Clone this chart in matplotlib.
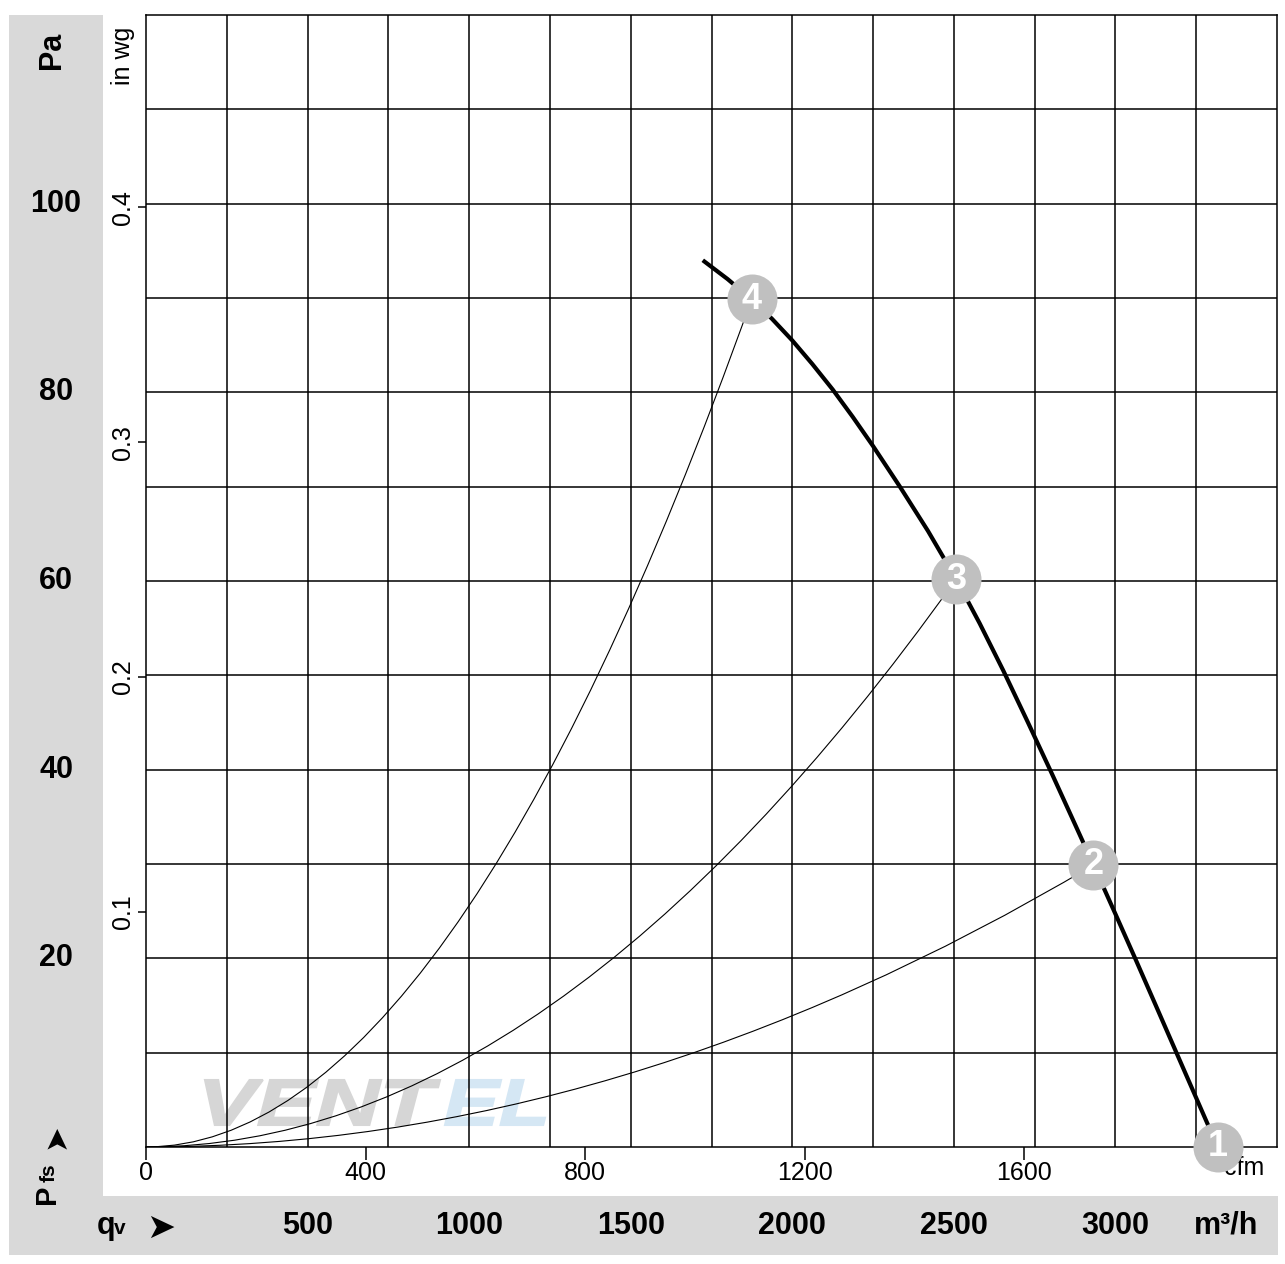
import numpy as np
import matplotlib
matplotlib.use("Agg")
import matplotlib.pyplot as plt
from matplotlib.patches import Rectangle, PathPatch
from matplotlib.path import Path
from matplotlib.textpath import TextPath
from matplotlib.font_manager import FontProperties
import matplotlib.transforms as mtransforms

plt.rcParams['font.family'] = ['Liberation Sans', 'DejaVu Sans']

# ---------------- data ----------------
fan_q = [1723, 1800, 1874, 1937, 2000, 2062, 2125, 2187, 2250, 2333, 2420, 2507, 2580, 2653,
         2728, 2803, 2867, 2932, 3000, 3061, 3125, 3190, 3250, 3287, 3316]
fan_p = [94.0, 92.0, 89.85, 87.8, 85.5, 83.0, 80.3, 77.4, 74.3, 70.0, 65.3, 60.2, 55.5, 50.5,
         45.1, 39.6, 34.8, 29.9, 24.7, 20.0, 15.0, 9.9, 5.2, 2.3, 0.0]

op_labels = ['1', '2', '3', '4']
op_q = [3316, 2932, 2507, 1874]
op_p = [0.0, 29.9, 60.2, 89.85]

pa_ticks = [20, 40, 60, 80, 100]
qv_ticks = [500, 1000, 1500, 2000, 2500, 3000]
inwg_ticks = [0.1, 0.2, 0.3, 0.4]
cfm_ticks = [0, 400, 800, 1200, 1600]

PA_PER_INWG = 249.089
M3H_PER_CFM = 1.699

# ---------------- layout ----------------
W, H = 1285, 1264
fig = plt.figure(figsize=(W / 100, H / 100), dpi=100)
fig.patch.set_facecolor('white')

def fx(px):
    return px / W

def fy(py):
    return 1 - py / H

ax = fig.add_axes([fx(146), fy(1147), 1131 / W, 1132 / H])
ax.set_xlim(0, 3500)
ax.set_ylim(0, 120)
ax.patch.set_alpha(0)

band = '#d9d9d9'
fig.add_artist(Rectangle((fx(9), fy(1255)), fx(103) - fx(9), fy(15) - fy(1255),
                         transform=fig.transFigure, color=band, zorder=-5, lw=0))
fig.add_artist(Rectangle((fx(9), fy(1255)), fx(1278) - fx(9), fy(1196) - fy(1255),
                         transform=fig.transFigure, color=band, zorder=-5, lw=0))

# watermark
def wm(txt, x0, x1, ytop, ybot, color):
    fp = FontProperties(family='Liberation Sans', weight='bold', style='italic')
    tp = TextPath((0, 0), txt, size=1, prop=fp)
    ext = tp.get_extents()
    sx = (x1 - x0) / ext.width
    sy = (ybot - ytop) / ext.height
    tr = mtransforms.Affine2D().translate(-ext.x0, -ext.y0).scale(sx, sy).translate(x0, H - ybot)
    p = PathPatch(tr.transform_path(tp), transform=mtransforms.IdentityTransform(),
                  fc=color, ec=color, lw=1.5, zorder=0.5, clip_on=False)
    ax.add_artist(p)

wm('VENT', 205, 440, 1080, 1125, '#d6d6d6')
wm('EL', 445, 545, 1080, 1125, '#d5e7f4')

# grid
for v in np.arange(250, 3500, 250):
    ax.axvline(v, color='k', lw=1.1, zorder=1)
for h in np.arange(10, 120, 10):
    ax.axhline(h, color='k', lw=1.1, zorder=1)
for s in ax.spines.values():
    s.set_linewidth(1.1)
    s.set_zorder(2)

# ticks: cfm on x, in wg on y
ax.set_xticks([c * M3H_PER_CFM for c in cfm_ticks])
ax.set_xticklabels([str(c) for c in cfm_ticks], fontsize=18)
ax.tick_params(axis='x', length=9.4, width=1.1, pad=1, direction='out')
ax.set_yticks([w * PA_PER_INWG for w in inwg_ticks])
ax.set_yticklabels([str(w) for w in inwg_ticks], fontsize=18, rotation=90, va='center')
ax.tick_params(axis='y', length=5.8, width=1.1, pad=2, direction='out')

ax.text(fx(1244), fy(1168), 'cfm', transform=fig.transFigure, fontsize=18,
        ha='center', va='center')
fig.text(fx(123), fy(56), 'in wg', fontsize=18, rotation=90, ha='center', va='center')

# Pa labels in left band
ty = mtransforms.blended_transform_factory(fig.transFigure, ax.transData)
for p in pa_ticks:
    fig.text(fx(56), p, str(p), transform=ty, fontsize=22, weight='bold', ha='center', va='center')
fig.text(fx(52), fy(50), 'Pa', fontsize=22, weight='bold', rotation=90, ha='center', va='center')

# m3/h labels in bottom band
tx = mtransforms.blended_transform_factory(ax.transData, fig.transFigure)
for q in qv_ticks:
    fig.text(q, fy(1234), str(q), transform=tx, fontsize=22, weight='bold', ha='center', va='baseline')
fig.text(fx(1226), fy(1234), 'm³/h', fontsize=22, weight='bold', ha='center', va='baseline')
fig.text(fx(97), fy(1234), 'q', fontsize=22, weight='bold', ha='left', va='baseline')
fig.text(fx(114), fy(1234), 'v', fontsize=15, weight='bold', ha='left', va='baseline')
fig.text(fx(161), fy(1228), '➤', fontsize=25, ha='center', va='center', family='DejaVu Sans')

fig.text(fx(47), fy(1194), 'P', fontsize=21, weight='bold', rotation=90, ha='center', va='center')
fig.text(fx(49), fy(1173), 'fs', fontsize=15, weight='bold', rotation=90, ha='center', va='center')
fig.text(fx(56), fy(1136), '➤', fontsize=22, rotation=90, ha='center', va='center', family='DejaVu Sans')

# system curves (parabolas through origin to operating points)
for q, p in zip(op_q[1:], op_p[1:]):
    path = Path([(0, 0), (q / 2, 0), (q, p)], [Path.MOVETO, Path.CURVE3, Path.CURVE3])
    ax.add_patch(PathPatch(path, fill=False, lw=0.8, ec='k', zorder=3))

# fan curve
ax.plot(fan_q, fan_p, color='k', lw=3, zorder=4, solid_capstyle='butt',
        solid_joinstyle='round', clip_on=False)

# operating points
ax.scatter(op_q, op_p, s=36 ** 2, color='#c0c0c0', zorder=5, clip_on=False, linewidths=0)
for lab, q, p in zip(op_labels, op_q, op_p):
    ax.text(q, p, lab, color='white', fontsize=26, weight='bold', ha='center', va='center',
            zorder=6, clip_on=False)

fig.savefig('out.png', dpi=100)
